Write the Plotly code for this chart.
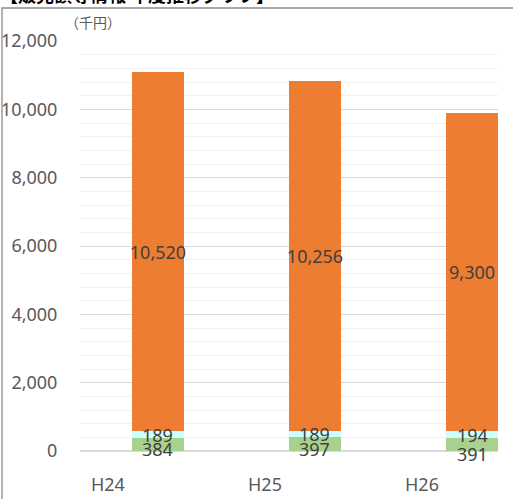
import plotly.graph_objects as go

categories = ["H24", "H25", "H26"]
series_green = [384, 397, 391]
series_cyan = [189, 189, 194]
series_orange = [10520, 10256, 9300]
y_ticks = [0, 2000, 4000, 6000, 8000, 10000, 12000]
y_tick_labels = ["0", "2,000", "4,000", "6,000", "8,000", "10,000", "12,000"]

W, H = 513, 499
L, R, T, B = 80, 15, 41, 48
PW, PH = W - L - R, H - T - B

def px_x(px):
    return (px - L) / PW

def px_y(py):
    return (H - B - py) / PH

font_fam = "Noto Sans, Noto Sans CJK JP, sans-serif"
lab_font = dict(family=font_fam, size=18, color="#404040")

bar_offset = 0.153
bar_width = 0.331
# label nudges (pixels) to avoid overlap, like the spreadsheet's auto placement
green_nudge = [-5, -5, -10]
cyan_nudge = [0, 0, -1]

fig = go.Figure()
traces = [
    (series_green, "#A9D18E", False),
    (series_cyan, "#CCFFFF", False),
    (series_orange, "#ED7D31", True),
]
for vals, col, show_text in traces:
    fig.add_trace(go.Bar(
        x=list(range(len(categories))), y=vals, marker=dict(color=col, line=dict(width=0)),
        offset=bar_offset, width=bar_width,
        text=[f"{v:,}" for v in vals] if show_text else None,
        textposition="inside" if show_text else "none",
        insidetextanchor="middle", textfont=lab_font, textangle=0,
        cliponaxis=False, showlegend=False, hoverinfo="skip",
    ))

annotations = []
for i, cat in enumerate(categories):
    xc = i + bar_offset + bar_width / 2
    g = series_green[i]
    c = series_cyan[i]
    annotations.append(dict(x=xc, y=g / 2, xref="x", yref="y", text=f"{g:,}",
                            showarrow=False, yshift=green_nudge[i], font=lab_font,
                            xanchor="center", yanchor="middle"))
    annotations.append(dict(x=xc, y=g + c / 2, xref="x", yref="y", text=f"{c:,}",
                            showarrow=False, yshift=cyan_nudge[i], font=lab_font,
                            xanchor="center", yanchor="middle"))

annotations += [
    dict(text="（千円）", xref="paper", yref="paper", x=px_x(93), y=px_y(22),
         xanchor="center", yanchor="middle", showarrow=False,
         font=dict(family="Noto Sans CJK JP", size=14, color="#595959")),
    dict(text="【販売額等情報 年度推移グラフ】", xref="paper", yref="paper",
         x=px_x(-2), y=px_y(-6), xanchor="left", yanchor="middle", showarrow=False,
         font=dict(family="Noto Sans CJK JP", size=18, color="#000000", weight="bold")),
]

fig.update_layout(
    width=W, height=H, barmode="stack",
    margin=dict(l=L, r=R, t=T, b=B, pad=0, autoexpand=False),
    paper_bgcolor="white", plot_bgcolor="white",
    font=dict(family=font_fam, color="#595959"),
    uniformtext=dict(minsize=18, mode="show"),
    xaxis=dict(
        range=[-0.178, 2.484], tickvals=[0, 1, 2], ticktext=categories,
        showgrid=False, zeroline=False,
        showline=False, ticks="outside", ticklen=17, tickcolor="rgba(0,0,0,0)",
        tickfont=dict(family=font_fam, size=18, color="#595959"), automargin=False,
    ),
    yaxis=dict(
        range=[0, 12000], tickvals=y_ticks, ticktext=y_tick_labels,
        showgrid=True, gridcolor="#D9D9D9", gridwidth=1.3,
        zeroline=True, zerolinecolor="#D9D9D9", zerolinewidth=1.5,
        minor=dict(dtick=400, showgrid=True, gridcolor="#F0F0F0", gridwidth=1.3),
        ticks="outside", ticklen=18, tickcolor="rgba(0,0,0,0)",
        tickfont=dict(family=font_fam, size=18, color="#595959"),
        showline=False, automargin=False,
    ),
    shapes=[
        dict(type="path", xref="paper", yref="paper",
             path=f"M {px_x(2)} {px_y(540)} L {px_x(2)} {px_y(8)} L {px_x(560)} {px_y(8)}",
             line=dict(color="#8C8C8C", width=1.3)),
    ],
    annotations=annotations,
)

fig.write_html("out.html", config={"displayModeBar": False},
               post_script="document.body.style.margin='0px';document.body.style.overflow='hidden';")
